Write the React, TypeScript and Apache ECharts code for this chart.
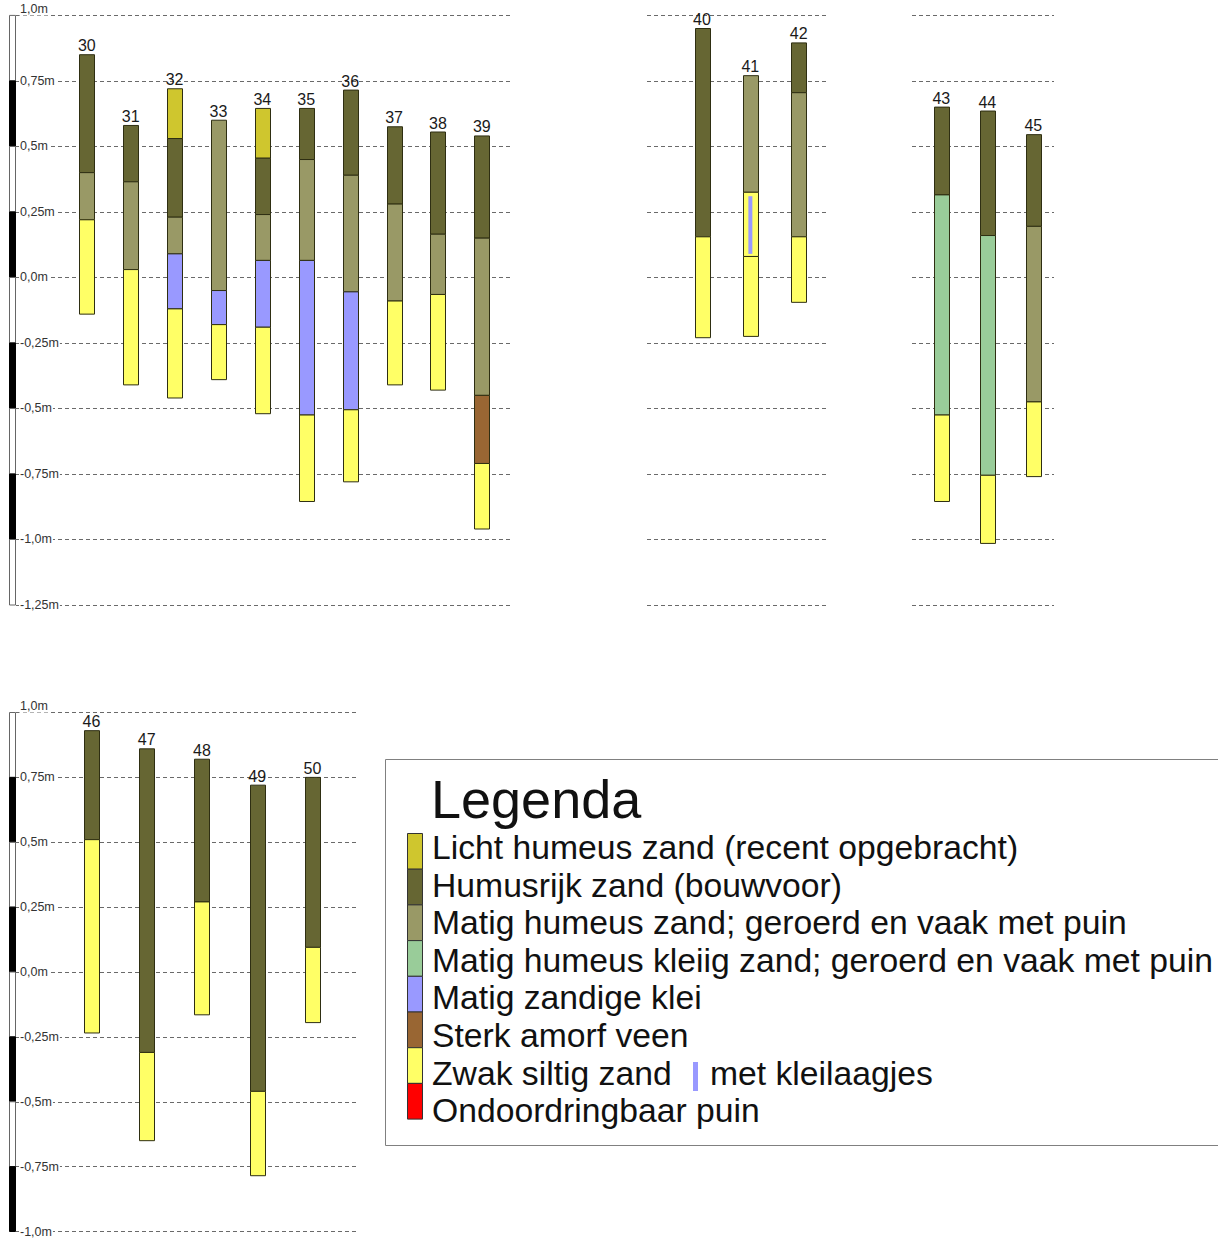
import React, { useEffect, useRef } from 'react';
import * as echarts from 'echarts';

// Soil types (legend order) and their fill colours
const soilTypes = [
  'Licht humeus zand (recent opgebracht)',
  'Humusrijk zand (bouwvoor)',
  'Matig humeus zand; geroerd en vaak met puin',
  'Matig humeus kleiig zand; geroerd en vaak met puin',
  'Matig zandige klei',
  'Sterk amorf veen',
  'Zwak siltig zand',
  'Ondoordringbaar puin',
];
const soilColors = ['#cfc62e', '#666633', '#999966', '#99cc99', '#9999ff', '#996633', '#ffff66', '#ff0000'];
const legendTitle = 'Legenda';
const kleiLabel = 'met kleilaagjes';

// Layers: [boring, top (m), bottom (m), soil index]
const layersWest: number[][] = [
  [30, 0.85, 0.40, 1], [30, 0.40, 0.22, 2], [30, 0.22, -0.14, 6],
  [31, 0.58, 0.365, 1], [31, 0.365, 0.03, 2], [31, 0.03, -0.41, 6],
  [32, 0.72, 0.53, 0], [32, 0.53, 0.23, 1], [32, 0.23, 0.09, 2], [32, 0.09, -0.12, 4], [32, -0.12, -0.46, 6],
  [33, 0.60, -0.05, 2], [33, -0.05, -0.18, 4], [33, -0.18, -0.39, 6],
  [34, 0.645, 0.455, 0], [34, 0.455, 0.24, 1], [34, 0.24, 0.065, 2], [34, 0.065, -0.19, 4], [34, -0.19, -0.52, 6],
  [35, 0.645, 0.45, 1], [35, 0.45, 0.065, 2], [35, 0.065, -0.525, 4], [35, -0.525, -0.855, 6],
  [36, 0.715, 0.39, 1], [36, 0.39, -0.055, 2], [36, -0.055, -0.505, 4], [36, -0.505, -0.78, 6],
  [37, 0.575, 0.28, 1], [37, 0.28, -0.09, 2], [37, -0.09, -0.41, 6],
  [38, 0.555, 0.165, 1], [38, 0.165, -0.065, 2], [38, -0.065, -0.43, 6],
  [39, 0.54, 0.15, 1], [39, 0.15, -0.45, 2], [39, -0.45, -0.71, 5], [39, -0.71, -0.96, 6],
];
const layersMid: number[][] = [
  [40, 0.95, 0.155, 1], [40, 0.155, -0.23, 6],
  [41, 0.77, 0.325, 2], [41, 0.325, 0.08, 6], [41, 0.08, -0.225, 6],
  [42, 0.895, 0.705, 1], [42, 0.705, 0.155, 2], [42, 0.155, -0.095, 6],
];
const layersEast: number[][] = [
  [43, 0.65, 0.315, 1], [43, 0.315, -0.525, 3], [43, -0.525, -0.855, 6],
  [44, 0.635, 0.16, 1], [44, 0.16, -0.755, 3], [44, -0.755, -1.015, 6],
  [45, 0.545, 0.195, 1], [45, 0.195, -0.475, 2], [45, -0.475, -0.76, 6],
];
const layersSouth: number[][] = [
  [46, 0.93, 0.51, 1], [46, 0.51, -0.235, 6],
  [47, 0.86, -0.31, 1], [47, -0.31, -0.65, 6],
  [48, 0.82, 0.27, 1], [48, 0.27, -0.165, 6],
  [49, 0.72, -0.46, 1], [49, -0.46, -0.785, 6],
  [50, 0.75, 0.095, 1], [50, 0.095, -0.195, 6],
];
// clay lamination marks: [boring, top, bottom]
const kleiLaagjes: number[][] = [[41, 0.31, 0.09]];

// Depth axis ticks and labels
const ticksTop = [1, 0.75, 0.5, 0.25, 0, -0.25, -0.5, -0.75, -1, -1.25];
const tickLabelsTop = ['1,0m', '0,75m', '0,5m', '0,25m', '0,0m', '-0,25m', '-0,5m', '-0,75m', '-1,0m', '-1,25m'];
const ticksBottom = [1, 0.75, 0.5, 0.25, 0, -0.25, -0.5, -0.75, -1];
const tickLabelsBottom = ['1,0m', '0,75m', '0,5m', '0,25m', '0,0m', '-0,25m', '-0,5m', '-0,75m', '-1,0m'];

const FONT = 'Liberation Sans, Arial, Helvetica, sans-serif';

function boreTops(layers: number[][]) {
  const m = new Map<number, number>();
  layers.forEach((l) => {
    const t = m.get(l[0]);
    if (t === undefined || l[1] > t) m.set(l[0], l[1]);
  });
  return Array.from(m.entries()).map(([b, t]) => [b, t]);
}

function scaleSegments(ticks: number[]) {
  const out: number[][] = [];
  for (let i = 0; i < ticks.length - 1; i++) out.push([0, ticks[i], ticks[i + 1], i % 2]);
  return out;
}

const layerRender = (params: any, api: any) => {
  const x = api.value(0);
  const p1 = api.coord([x, api.value(1)]);
  const p2 = api.coord([x, api.value(2)]);
  const w = 15;
  return {
    type: 'rect',
    shape: { x: Math.round(p1[0] - w / 2) + 0.5, y: p1[1], width: w, height: p2[1] - p1[1] },
    style: { fill: soilColors[api.value(3)], stroke: '#2e2e12', lineWidth: 1 },
  };
};

const labelRender = (params: any, api: any) => {
  const p = api.coord([api.value(0), api.value(1)]);
  return {
    type: 'text',
    x: p[0],
    y: p[1] - 1,
    style: { text: String(api.value(0)), font: `16px ${FONT}`, fill: '#1a1a1a', align: 'center', verticalAlign: 'bottom' },
  };
};

const scaleRender = (params: any, api: any) => {
  const cs = params.coordSys;
  const y1 = api.coord([0, api.value(1)])[1];
  const y2 = api.coord([0, api.value(2)])[1];
  const black = api.value(3) === 1;
  return {
    type: 'rect',
    shape: { x: cs.x - 6.5, y: y1, width: 6, height: y2 - y1 },
    style: { fill: black ? '#000' : '#fff', stroke: black ? '#000' : '#666', lineWidth: 1 },
  };
};

const kleiRender = (params: any, api: any) => {
  const x = api.value(0);
  const p1 = api.coord([x, api.value(1)]);
  const p2 = api.coord([x, api.value(2)]);
  return {
    type: 'rect',
    shape: { x: p1[0] - 2, y: p1[1], width: 4, height: p2[1] - p1[1] },
    style: { fill: '#9999ff' },
  };
};

function makeYAxis(gridIndex: number, min: number, max: number, labels: string[] | null, ticks: number[]) {
  return {
    type: 'value',
    gridIndex,
    min,
    max,
    interval: 0.25,
    axisLine: { show: false },
    axisTick: { show: false },
    splitLine: { show: true, lineStyle: { type: [4, 3], color: '#6a6a6a', width: 1.2 } },
    axisLabel: labels
      ? {
          show: true,
          inside: true,
          margin: 3,
          fontSize: 12.5,
          fontFamily: FONT,
          color: '#333',
          backgroundColor: '#fff',
          padding: [0, 1],
          verticalAlignMaxLabel: 'bottom',
          formatter: (v: number) => {
            const i = ticks.findIndex((t) => Math.abs(t - v) < 1e-6);
            return i >= 0 ? labels[i] : '';
          },
        }
      : { show: false },
  };
}

export default function App() {
  const ref = useRef<HTMLDivElement>(null);
  useEffect(() => {
    document.body.style.margin = '0';
    const chart = echarts.init(ref.current!, null, { renderer: 'svg' });
    const sections = [layersWest, layersMid, layersEast, layersSouth];

    const series: any[] = [];
    sections.forEach((layers, g) => {
      series.push({
        type: 'custom',
        xAxisIndex: g,
        yAxisIndex: g,
        renderItem: layerRender,
        encode: { x: 0, y: [1, 2] },
        data: layers,
        z: 3,
      });
      series.push({
        type: 'custom',
        xAxisIndex: g,
        yAxisIndex: g,
        renderItem: labelRender,
        encode: { x: 0, y: 1 },
        data: boreTops(layers),
        z: 5,
      });
    });
    series.push({
      type: 'custom',
      xAxisIndex: 1,
      yAxisIndex: 1,
      renderItem: kleiRender,
      encode: { x: 0, y: [1, 2] },
      data: kleiLaagjes,
      z: 4,
    });
    series.push({
      type: 'custom',
      xAxisIndex: 0,
      yAxisIndex: 0,
      renderItem: scaleRender,
      data: scaleSegments(ticksTop),
      z: 4,
    });
    series.push({
      type: 'custom',
      xAxisIndex: 3,
      yAxisIndex: 3,
      renderItem: scaleRender,
      data: scaleSegments(ticksBottom),
      z: 4,
    });

    const rowFont = `33.7px ${FONT}`;
    const graphics: any[] = [
      {
        type: 'rect',
        shape: { x: 385.5, y: 759.5, width: 900, height: 386 },
        style: { fill: '#fff', stroke: '#808080', lineWidth: 1 },
        z: 10,
      },
      {
        type: 'text',
        x: 431,
        y: 799,
        style: { text: legendTitle, font: `54px ${FONT}`, fill: '#111', verticalAlign: 'middle' },
        z: 11,
      },
    ];
    soilTypes.forEach((name, i) => {
      graphics.push({
        type: 'rect',
        shape: { x: 407.5, y: 833.5 + i * 35.7, width: 15, height: 35.7 },
        style: { fill: soilColors[i], stroke: '#333', lineWidth: 1 },
        z: 11,
      });
      graphics.push({
        type: 'text',
        x: 432,
        y: 847 + i * 37.6,
        style: { text: name, font: rowFont, fill: '#111', verticalAlign: 'middle' },
        z: 11,
      });
    });
    graphics.push({
      type: 'rect',
      shape: { x: 693, y: 1062, width: 5, height: 29 },
      style: { fill: '#9999ff' },
      z: 11,
    });
    graphics.push({
      type: 'text',
      x: 710,
      y: 847 + 6 * 37.6,
      style: { text: kleiLabel, font: rowFont, fill: '#111', verticalAlign: 'middle' },
      z: 11,
    });

    chart.setOption({
      animation: false,
      backgroundColor: '#fff',
      grid: [
        { left: 16, top: 15.4, width: 496, height: 589.6 },
        { left: 647, top: 15.4, width: 181, height: 589.6 },
        { left: 912, top: 15.4, width: 142, height: 589.6 },
        { left: 16, top: 712.5, width: 340, height: 524 },
      ],
      xAxis: [
        { type: 'value', gridIndex: 0, min: 28.387, max: 39.688, show: false },
        { type: 'value', gridIndex: 1, min: 38.862, max: 42.606, show: false },
        { type: 'value', gridIndex: 2, min: 42.363, max: 45.45, show: false },
        { type: 'value', gridIndex: 3, min: 44.633, max: 50.788, show: false },
      ],
      yAxis: [
        makeYAxis(0, -1.25, 1, tickLabelsTop, ticksTop),
        makeYAxis(1, -1.25, 1, null, ticksTop),
        makeYAxis(2, -1.25, 1, null, ticksTop),
        makeYAxis(3, -1, 1, tickLabelsBottom, ticksBottom),
      ],
      series,
      graphic: graphics,
    });
    return () => chart.dispose();
  }, []);
  return (
    <div
      ref={ref}
      style={{ position: 'absolute', left: 0, top: 0, width: 1218, height: 1238 }}
    />
  );
}
